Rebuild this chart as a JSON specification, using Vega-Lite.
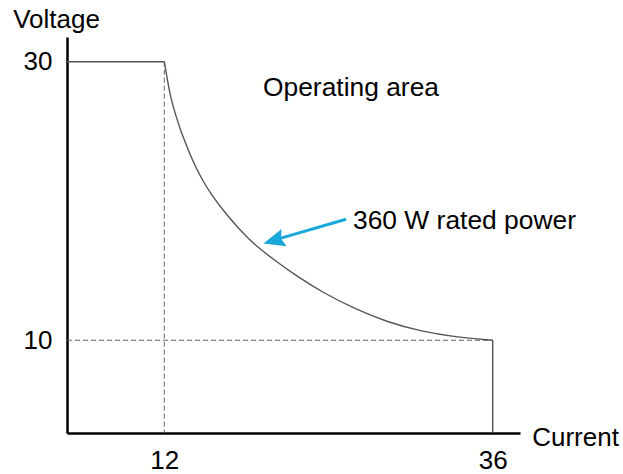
{
  "$schema": "https://vega.github.io/schema/vega-lite/v6.json",
  "width": 453,
  "height": 396,
  "autosize": {"type": "none"},
  "padding": {"left": 67, "top": 37, "right": 103, "bottom": 41},
  "background": "white",
  "config": {
    "view": {"stroke": null},
    "font": "Liberation Sans",
    "axis": {"grid": false, "ticks": false, "tickSize": 0, "domainColor": "#000", "domainWidth": 2.5, "labelFontSize": 26, "labelColor": "#000", "labelFont": "Liberation Sans", "titleFont": "Liberation Sans", "titleFontSize": 26, "titleFontWeight": "normal", "titleColor": "#000", "labelFlush": false, "labelOverlap": false}
  },
  "datasets": {
    "curve": [
      {"current": 12.0, "voltage": 30.0},
      {"current": 12.051, "voltage": 29.764},
      {"current": 12.197, "voltage": 28.831},
      {"current": 12.417, "voltage": 27.682},
      {"current": 12.636, "voltage": 26.82},
      {"current": 12.855, "voltage": 26.102},
      {"current": 13.147, "voltage": 25.205},
      {"current": 13.439, "voltage": 24.451},
      {"current": 14.024, "voltage": 22.979},
      {"current": 14.66, "voltage": 21.723},
      {"current": 15.339, "voltage": 20.575},
      {"current": 16.677, "voltage": 18.851},
      {"current": 18.065, "voltage": 17.344},
      {"current": 18.994, "voltage": 16.554},
      {"current": 20.09, "voltage": 15.729},
      {"current": 21.552, "voltage": 14.688},
      {"current": 23.503, "voltage": 13.467},
      {"current": 25.937, "voltage": 12.247},
      {"current": 28.371, "voltage": 11.278},
      {"current": 30.812, "voltage": 10.632},
      {"current": 33.245, "voltage": 10.237},
      {"current": 36.0, "voltage": 10.0}
    ],
    "solid": [
      {"seg": "top", "current": 4.889, "voltage": 30},
      {"seg": "top", "current": 12, "voltage": 30},
      {"seg": "end", "current": 36, "voltage": 10},
      {"seg": "end", "current": 36, "voltage": 3.345}
    ],
    "dashed": [
      {"seg": "v12", "current": 12, "voltage": 30},
      {"seg": "v12", "current": 12, "voltage": 3.345},
      {"seg": "h10", "current": 4.889, "voltage": 10},
      {"seg": "h10", "current": 36, "voltage": 10}
    ],
    "labels": [
      {"label": "Operating area", "current": 19.21, "voltage": 27.54},
      {"label": "360 W rated power", "current": 25.79, "voltage": 17.97}
    ],
    "shaft": [
      {"current": 25.28, "voltage": 18.69},
      {"current": 20.4, "voltage": 17.3}
    ],
    "head": [
      {"current": 20.0, "voltage": 17.16}
    ]
  },
  "encoding": {
    "x": {"field": "current", "type": "quantitative", "scale": {"domain": [4.889, 37.995], "nice": false, "zero": false},
      "axis": {"values": [12, 36], "labelPadding": 35, "labelBaseline": "alphabetic", "title": "Current", "titleX": 464.7, "titleY": 12, "titleAlign": "left", "titleBaseline": "alphabetic", "titleAnchor": null}},
    "y": {"field": "voltage", "type": "quantitative", "scale": {"domain": [3.345, 31.773], "nice": false, "zero": false},
      "axis": {"values": [10, 30], "labelPadding": 15, "title": "Voltage", "titleAngle": 0, "titleX": -11, "titleY": -9.7, "titleAlign": "center", "titleBaseline": "alphabetic", "titleAnchor": null}}
  },
  "layer": [
    {"data": {"name": "dashed"}, "mark": {"type": "line", "color": "#666", "strokeWidth": 1, "strokeDash": [5, 3]}, "encoding": {"detail": {"field": "seg"}}},
    {"data": {"name": "solid"}, "mark": {"type": "line", "color": "#555", "strokeWidth": 1.4}, "encoding": {"detail": {"field": "seg"}}},
    {"data": {"name": "curve"}, "mark": {"type": "line", "color": "#555", "strokeWidth": 1.4, "interpolate": "basis"}},
    {"data": {"name": "shaft"}, "mark": {"type": "line", "color": "#1aa7d9", "strokeWidth": 3}},
    {"data": {"name": "head"}, "mark": {"type": "point", "shape": "M-1,0 L1,-0.84 L0.7,0 L1,0.84 Z", "filled": true, "color": "#1aa7d9", "opacity": 1, "size": 462, "angle": 343.8}},
    {"data": {"name": "labels"}, "mark": {"type": "text", "align": "left", "baseline": "alphabetic", "fontSize": 26.4, "color": "#000"}, "encoding": {"text": {"field": "label"}}}
  ]
}
